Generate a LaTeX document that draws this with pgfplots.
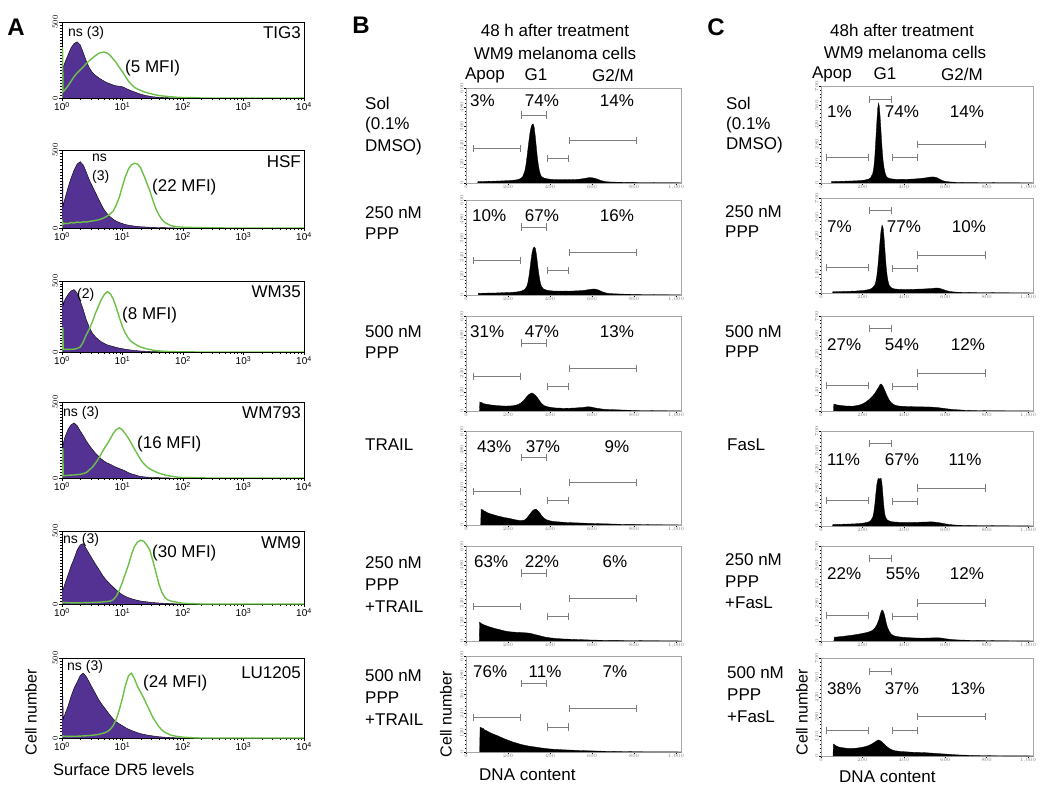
\documentclass[border=0pt]{standalone}
\usepackage{fontspec}
\setmainfont{Liberation Sans}
\usepackage{pgfplots}
\pgfplotsset{compat=1.18}
\definecolor{purp}{RGB}{84,50,148}
\definecolor{lgreen}{RGB}{108,192,72}
\definecolor{gatec}{RGB}{125,125,125}
\newcommand{\fL}{\fontsize{17}{20}\selectfont}
\newcommand{\fS}{\fontsize{14}{16}\selectfont}
\newcommand{\tx}[4][west]{\node[anchor=#1,inner sep=0pt,font=\fL] at (#2pt,-#3pt) {#4};}
\newcommand{\ts}[4][west]{\node[anchor=#1,inner sep=0pt,font=\fS] at (#2pt,-#3pt) {#4};}
\pgfplotsset{
 myfacs/.style={scale only axis, xmin=1, xmax=10000, ymin=0, ymax=500, width=242pt,
   axis line style={line width=0.6pt}, tick align=outside, xtick pos=bottom, ytick pos=left,
   xtick={1,10,100,1000,10000},
   xticklabels={10\textsuperscript{0},10\textsuperscript{1},10\textsuperscript{2},10\textsuperscript{3},10\textsuperscript{4}},
   minor xtick={2,3,4,5,6,7,8,9,20,30,40,50,60,70,80,90,200,300,400,500,600,700,800,900,2000,3000,4000,5000,6000,7000,8000,9000},
   ytick={0,500}, minor ytick={20,40,...,480},
   major tick length=3pt, minor tick length=1.8pt,
   tick style={line width=0.4pt, black},
   xticklabel style={font=\fontsize{10}{10}\selectfont, inner sep=1pt},
   yticklabel style={font=\fontsize{8}{8}\selectfont, rotate=90, anchor=south, inner sep=1pt}},
 mydna/.style={scale only axis, xmin=0, xmax=1024, ymin=0,
   axis line style={gray!70, line width=0.5pt}, tick align=outside, xtick pos=bottom, ytick pos=left,
   xtick={0,200,...,1000}, minor x tick num=3, minor y tick num=4,
   major tick length=2pt, minor tick length=1pt, tick style={black, line width=0.3pt},
   xticklabel style={font=\fontsize{3.5}{4}\selectfont, inner sep=0.5pt, text=gray},
   yticklabel style={font=\fontsize{3.5}{4}\selectfont, inner sep=0.5pt, rotate=90, anchor=south, text=gray}},
 mydnaB/.style={mydna, width=215pt, ymax=600, ytick={0,120,...,600}},
 mydnaC/.style={mydna, width=212pt, ymax=700, ytick={0,140,...,700}},
 myhist/.style={fill=black, draw=black, line width=0.3pt},
 mypur/.style={fill=purp, draw=black, line width=0.4pt},
 mygrn/.style={draw=lgreen, line width=1.4pt},
 mygate/.style={draw=gatec, line width=0.8pt},
}
\newcommand{\gatesB}{%
 \addplot[mygate, |-|] coordinates {(33,216)(262,216)};
 \addplot[mygate, |-|] coordinates {(262,430)(386,430)};
 \addplot[mygate, |-|] coordinates {(386,156)(490,156)};
 \addplot[mygate, |-|] coordinates {(490,270)(814,270)};}
\newcommand{\gatesC}{%
 \addplot[mygate, |-|] coordinates {(25,185)(232,185)};
 \addplot[mygate, |-|] coordinates {(232,605)(342,605)};
 \addplot[mygate, |-|] coordinates {(342,182)(466,182)};
 \addplot[mygate, |-|] coordinates {(466,280)(798,280)};}
\begin{document}
\begin{tikzpicture}
\path[use as bounding box] (0,0) rectangle (1050pt,-799pt);
% ================= PANEL A =================
\begin{semilogxaxis}[myfacs, at={(62pt,-98pt)}, anchor=south west, height=76pt]
\addplot[mypur] coordinates {(1,0)(1,200)(1.06,210)(1.12,235)(1.26,285)(1.41,330)(1.58,358)(1.78,370)(2,350)(2.24,300)(2.51,245)(2.82,200)(3.16,170)(3.55,150)(3.98,135)(4.47,122)(5.01,110)(5.62,100)(6.31,92)(7.08,85)(7.94,80)(8.91,77)(10,74)(11.2,65)(12.6,55)(14.1,47)(15.8,40)(17.8,32)(20,25)(22.4,20)(25.1,15)(28.2,12)(31.6,8)(39.8,5)(50.1,3)(63.1,1)(79.4,0)};
\addplot[mygrn] coordinates {(1,0)(1,330)(1.02,330)(1.04,40)(1.12,55)(1.26,80)(1.41,110)(1.58,140)(1.78,165)(2,185)(2.24,205)(2.51,225)(2.82,245)(3.16,262)(3.55,278)(3.98,292)(4.47,300)(5.01,302)(5.62,295)(6.31,278)(7.08,255)(7.94,230)(8.91,200)(10,172)(11.2,140)(12.6,110)(14.1,88)(15.8,70)(17.8,58)(20,50)(22.4,42)(25.1,35)(28.2,30)(31.6,25)(39.8,16)(50.1,12)(63.1,8)(79.4,5)(100,3)(158,2)(200,0)(10000,0)};
\end{semilogxaxis}
\begin{semilogxaxis}[myfacs, at={(62pt,-228pt)}, anchor=south west, height=78pt]
\addplot[mypur] coordinates {(1,0)(1,320)(1.03,320)(1.04,140)(1.12,190)(1.26,260)(1.41,320)(1.58,370)(1.78,410)(2,425)(2.24,405)(2.51,360)(2.82,310)(3.16,270)(3.55,230)(3.98,190)(4.47,150)(5.01,115)(5.62,90)(6.31,70)(7.08,55)(7.94,43)(8.91,35)(10,28)(11.2,22)(12.6,18)(14.1,15)(15.8,12)(17.8,10)(20,8)(25.1,6)(31.6,4)(39.8,3)(50.1,2)(63.1,1)(79.4,0)};
\addplot[mygrn] coordinates {(1,0)(1,50)(1.05,25)(1.12,30)(1.26,28)(1.41,35)(1.58,32)(1.78,38)(2,35)(2.24,40)(2.51,38)(2.82,42)(3.16,45)(3.55,48)(3.98,52)(4.47,58)(5.01,66)(5.62,78)(6.31,92)(7.08,110)(7.94,150)(8.91,200)(10,270)(11.2,330)(12.6,380)(14.1,405)(15.8,415)(17.8,410)(20,385)(22.4,340)(25.1,290)(28.2,240)(31.6,180)(35.5,125)(39.8,85)(44.7,55)(50.1,35)(63.1,15)(79.4,8)(100,5)(158,3)(251,2)(400,1)(500,0)(10000,0)};
\end{semilogxaxis}
\begin{semilogxaxis}[myfacs, at={(62pt,-352pt)}, anchor=south west, height=71pt]
\addplot[mypur] coordinates {(1,0)(1,390)(1.03,390)(1.05,330)(1.12,370)(1.26,405)(1.41,430)(1.58,440)(1.78,415)(2,360)(2.24,300)(2.51,230)(2.82,175)(3.16,135)(3.55,108)(3.98,88)(4.47,72)(5.01,60)(5.62,50)(6.31,44)(7.08,38)(7.94,32)(8.91,27)(10,23)(12.6,16)(15.8,11)(20,7)(25.1,5)(31.6,3)(39.8,2)(50.1,1)(63.1,0)};
\addplot[mygrn] coordinates {(1,0)(1,170)(1.03,170)(1.05,20)(1.26,18)(1.58,20)(1.78,25)(2,35)(2.24,70)(2.51,120)(2.82,160)(3.16,210)(3.55,270)(3.98,320)(4.47,370)(5.01,405)(5.62,425)(6.31,410)(7.08,370)(7.94,310)(8.91,240)(10,177)(11.2,130)(12.6,95)(14.1,72)(15.8,58)(17.8,45)(20,35)(25.1,22)(31.6,13)(39.8,8)(50.1,5)(63.1,3)(79.4,2)(100,1)(200,0)(10000,0)};
\end{semilogxaxis}
\begin{semilogxaxis}[myfacs, at={(62pt,-478pt)}, anchor=south west, height=76pt]
\addplot[mypur] coordinates {(1,0)(1,200)(1.03,200)(1.05,230)(1.12,270)(1.26,320)(1.41,350)(1.58,362)(1.78,345)(2,310)(2.24,280)(2.51,245)(2.82,215)(3.16,190)(3.55,165)(3.98,145)(4.47,125)(5.01,110)(5.62,98)(6.31,90)(7.08,80)(7.94,70)(8.91,62)(10,55)(11.2,45)(12.6,35)(14.1,27)(15.8,22)(17.8,15)(20,10)(25.1,6)(31.6,3)(39.8,2)(50.1,1)(63.1,0)};
\addplot[mygrn] coordinates {(1,0)(1,193)(1.03,193)(1.05,15)(1.26,18)(1.58,20)(2,24)(2.51,35)(3.16,70)(3.55,95)(3.98,125)(4.47,160)(5.01,195)(5.62,225)(6.31,260)(7.08,295)(7.94,320)(8.91,330)(10,315)(11.2,290)(12.6,260)(14.1,225)(15.8,190)(17.8,155)(20,120)(22.4,95)(25.1,75)(28.2,60)(31.6,50)(35.5,40)(39.8,32)(50.1,20)(63.1,12)(79.4,6)(100,3)(158,2)(200,1)(250,0)(10000,0)};
\end{semilogxaxis}
\begin{semilogxaxis}[myfacs, at={(62pt,-604pt)}, anchor=south west, height=73pt]
\addplot[mypur] coordinates {(1,0)(1,97)(1.03,97)(1.05,105)(1.12,140)(1.26,200)(1.41,260)(1.58,310)(1.78,370)(2,405)(2.24,414)(2.51,380)(2.82,345)(3.16,310)(3.55,275)(3.98,245)(4.47,210)(5.01,180)(5.62,155)(6.31,135)(7.08,115)(7.94,95)(8.91,78)(10,63)(11.2,52)(12.6,43)(14.1,36)(15.8,30)(17.8,25)(20,20)(25.1,15)(31.6,10)(39.8,7)(50.1,5)(63.1,3)(79.4,1)(100,0)};
\addplot[mygrn] coordinates {(1,0)(1,12)(1.12,10)(1.41,8)(2,8)(2.82,10)(3.98,12)(5.01,15)(6.31,20)(7.08,30)(7.94,55)(8.91,97)(10,150)(11.2,210)(12.6,270)(14.1,340)(15.8,395)(17.8,425)(20,436)(22.4,430)(25.1,405)(28.2,370)(31.6,300)(35.5,220)(39.8,140)(44.7,80)(50.1,45)(56.2,28)(63.1,20)(79.4,12)(100,5)(126,3)(158,2)(200,0)(10000,0)};
\end{semilogxaxis}
\begin{semilogxaxis}[myfacs, at={(62pt,-738pt)}, anchor=south west, height=80pt]
\addplot[mypur] coordinates {(1,0)(1,271)(1.03,271)(1.05,120)(1.12,150)(1.26,200)(1.41,260)(1.58,310)(1.78,350)(2,390)(2.24,406)(2.51,385)(2.82,350)(3.16,315)(3.55,280)(3.98,245)(4.47,215)(5.01,190)(5.62,165)(6.31,140)(7.08,118)(7.94,100)(8.91,88)(10,77)(11.2,65)(12.6,55)(14.1,47)(15.8,40)(17.8,33)(20,27)(25.1,19)(31.6,13)(39.8,8)(50.1,5)(63.1,3)(79.4,1)(100,0)};
\addplot[mygrn] coordinates {(1,0)(1,12)(1.26,10)(1.58,10)(2,12)(2.51,14)(3.16,17)(3.98,22)(5.01,32)(5.62,40)(6.31,55)(7.08,80)(7.94,120)(8.91,180)(10,250)(11.2,330)(12.6,390)(14.1,405)(15.8,370)(17.8,320)(20,285)(22.4,250)(25.1,210)(28.2,170)(31.6,130)(35.5,100)(39.8,72)(44.7,50)(50.1,35)(63.1,18)(79.4,10)(100,5)(126,3)(158,1)(200,0)(10000,0)};
\end{semilogxaxis}
% ================= PANEL B =================
\begin{axis}[mydnaB, at={(466pt,-183pt)}, anchor=south west, height=95pt]
\addplot[myhist] coordinates {(55,0)(58,10)(65,8)(70,10)(80,9)(90,11)(100,10)(110,12)(120,10)(130,12)(140,11)(150,13)(160,12)(170,14)(180,13)(190,15)(200,14)(210,16)(220,17)(230,18)(240,20)(250,23)(260,28)(270,40)(280,75)(285,110)(290,160)(295,215)(300,270)(305,320)(310,352)(315,370)(320,373)(325,350)(330,295)(335,225)(340,160)(345,110)(350,75)(355,52)(360,40)(370,32)(380,28)(390,26)(400,24)(410,23)(420,22)(430,21)(440,22)(450,21)(460,22)(470,21)(480,22)(490,21)(500,22)(510,21)(520,22)(530,23)(540,24)(550,26)(560,28)(570,30)(580,33)(590,34)(600,33)(610,31)(620,27)(630,22)(640,17)(650,13)(660,10)(670,8)(680,7)(700,6)(720,5)(740,5)(760,4)(780,4)(800,4)(820,3)(840,3)(860,3)(880,3)(900,2)(920,2)(940,2)(960,2)(980,2)(1000,2)(1020,1)(1024,0)};
\gatesB
\end{axis}
\begin{axis}[mydnaB, at={(466pt,-295pt)}, anchor=south west, height=95pt]
\addplot[myhist] coordinates {(58,0)(60,12)(70,10)(80,12)(90,11)(100,12)(110,13)(120,12)(130,13)(140,12)(150,14)(160,13)(170,15)(180,14)(190,15)(200,15)(210,16)(220,17)(230,18)(240,19)(250,21)(260,24)(270,28)(280,36)(290,55)(295,80)(300,120)(305,170)(310,225)(315,270)(320,295)(325,303)(330,295)(335,260)(340,205)(345,150)(350,105)(355,72)(360,52)(370,38)(380,32)(390,29)(400,27)(410,26)(420,25)(430,25)(440,24)(450,25)(460,24)(470,25)(480,25)(490,24)(500,25)(510,25)(520,26)(530,26)(540,27)(550,28)(560,29)(570,31)(580,33)(590,35)(600,37)(610,38)(620,36)(630,32)(640,26)(650,20)(660,15)(670,12)(680,10)(700,8)(720,7)(740,6)(760,5)(780,5)(800,4)(820,4)(840,3)(860,3)(880,3)(900,2)(920,2)(940,2)(960,2)(980,1)(1000,1)(1020,1)(1024,0)};
\gatesB
\end{axis}
\begin{axis}[mydnaB, at={(466pt,-411pt)}, anchor=south west, height=95pt]
\addplot[myhist] coordinates {(64,0)(66,57)(70,52)(75,55)(80,48)(90,45)(100,42)(110,40)(120,38)(130,37)(140,35)(150,34)(160,33)(170,32)(180,32)(190,31)(200,32)(210,32)(220,33)(230,35)(240,38)(250,42)(260,50)(270,60)(280,75)(290,92)(300,105)(310,112)(315,114)(320,110)(330,100)(340,85)(350,65)(360,48)(370,36)(380,30)(390,26)(400,24)(410,22)(420,20)(430,19)(440,18)(450,18)(460,17)(470,17)(480,18)(490,17)(500,18)(510,18)(520,19)(530,20)(540,21)(550,22)(560,23)(570,25)(580,27)(590,26)(600,24)(610,21)(620,18)(630,16)(640,14)(650,12)(670,10)(690,9)(710,8)(730,7)(750,6)(780,5)(800,4)(830,3)(860,3)(900,2)(940,2)(980,1)(1020,1)(1024,0)};
\gatesB
\end{axis}
\begin{axis}[mydnaB, at={(466pt,-525pt)}, anchor=south west, height=94pt]
\addplot[myhist] coordinates {(70,0)(72,100)(76,95)(80,98)(85,90)(90,88)(100,80)(110,74)(120,70)(130,66)(140,62)(150,58)(160,55)(170,52)(180,48)(190,46)(200,44)(210,41)(220,38)(230,35)(240,32)(250,30)(260,28)(270,28)(280,33)(290,45)(300,62)(310,80)(320,95)(330,101)(335,100)(340,95)(350,80)(360,60)(370,45)(380,36)(390,30)(400,27)(410,24)(420,22)(440,20)(460,18)(480,16)(500,15)(520,14)(540,13)(560,12)(580,11)(600,10)(620,9)(650,8)(680,7)(700,6)(730,5)(760,4)(800,4)(840,3)(880,2)(920,2)(960,1)(1000,1)(1024,0)};
\gatesB
\end{axis}
\begin{axis}[mydnaB, at={(466pt,-641pt)}, anchor=south west, height=95pt]
\addplot[myhist] coordinates {(63,0)(65,120)(68,115)(72,112)(76,108)(80,105)(90,100)(100,95)(110,90)(120,86)(130,82)(140,78)(150,75)(160,72)(170,68)(180,65)(190,62)(200,60)(210,58)(220,57)(230,56)(240,55)(250,55)(260,54)(270,53)(280,52)(290,51)(300,50)(310,47)(320,44)(330,40)(340,37)(350,34)(360,30)(370,27)(380,24)(390,22)(400,20)(420,17)(440,15)(460,13)(480,12)(500,11)(520,10)(540,9)(560,8)(580,7)(600,6)(640,5)(680,4)(720,4)(760,3)(800,3)(850,2)(900,2)(950,1)(1000,1)(1024,0)};
\gatesB
\end{axis}
\begin{axis}[mydnaB, at={(466pt,-752pt)}, anchor=south west, height=96pt]
\addplot[myhist] coordinates {(65,0)(67,156)(70,150)(74,152)(78,146)(82,148)(86,140)(90,138)(100,132)(110,124)(120,118)(130,112)(140,107)(150,102)(160,96)(170,90)(180,84)(190,79)(200,74)(210,69)(220,64)(230,60)(240,56)(250,52)(260,48)(270,45)(280,42)(290,39)(300,37)(320,33)(340,29)(360,25)(380,22)(400,19)(420,17)(440,16)(460,14)(480,13)(500,12)(550,9)(600,7)(650,5)(700,4)(750,3)(800,2)(900,1)(1000,1)(1024,0)};
\gatesB
\end{axis}
% ================= PANEL C =================
\begin{axis}[mydnaC, at={(821pt,-183pt)}, anchor=south west, height=97pt]
\addplot[myhist] coordinates {(50,0)(52,12)(60,10)(70,12)(80,11)(90,12)(100,13)(110,12)(120,14)(130,13)(140,15)(150,14)(160,16)(170,15)(180,17)(190,18)(200,19)(210,21)(220,24)(230,28)(240,38)(250,70)(255,110)(260,190)(265,320)(270,450)(274,540)(278,577)(282,550)(286,470)(290,370)(295,250)(300,160)(305,105)(310,70)(315,50)(320,40)(330,33)(340,30)(350,28)(360,27)(380,26)(400,26)(420,27)(440,28)(460,30)(480,33)(500,36)(510,38)(520,41)(530,43)(540,44)(550,42)(560,38)(570,30)(580,22)(590,16)(600,12)(620,8)(640,6)(660,5)(700,4)(740,4)(780,3)(820,3)(860,2)(900,2)(950,2)(1000,1)(1020,1)(1024,0)};
\gatesC
\end{axis}
\begin{axis}[mydnaC, at={(821pt,-293pt)}, anchor=south west, height=95pt]
\addplot[myhist] coordinates {(55,0)(58,10)(70,9)(80,11)(90,10)(100,11)(110,12)(120,11)(130,13)(140,12)(150,14)(160,13)(170,15)(180,16)(190,17)(200,18)(210,20)(220,22)(230,25)(240,30)(250,40)(260,60)(265,85)(270,130)(275,200)(280,290)(285,380)(290,460)(295,501)(300,480)(305,400)(310,290)(315,190)(320,120)(325,80)(330,55)(340,38)(350,32)(360,29)(380,27)(400,26)(420,26)(440,27)(460,28)(480,29)(500,30)(520,32)(540,34)(550,36)(560,37)(570,35)(580,31)(590,26)(600,20)(620,12)(640,8)(660,6)(700,5)(740,4)(780,3)(820,3)(860,2)(900,2)(950,1)(1000,1)(1024,0)};
\gatesC
\end{axis}
\begin{axis}[mydnaC, at={(821pt,-411pt)}, anchor=south west, height=95pt]
\addplot[myhist] coordinates {(60,0)(62,52)(66,48)(70,50)(75,45)(80,44)(90,42)(100,40)(110,38)(120,37)(130,36)(140,36)(150,35)(160,37)(170,39)(180,42)(190,46)(200,52)(210,60)(220,70)(230,82)(240,96)(250,112)(260,130)(270,155)(280,180)(285,195)(290,199)(295,192)(300,180)(310,145)(320,110)(330,80)(340,60)(350,48)(360,42)(370,38)(380,36)(400,34)(420,33)(440,32)(460,31)(480,31)(500,30)(520,30)(540,28)(560,26)(580,22)(600,18)(620,14)(640,11)(660,9)(680,7)(700,5)(740,4)(780,3)(820,2)(880,2)(940,1)(1000,1)(1024,0)};
\gatesC
\end{axis}
\begin{axis}[mydnaC, at={(821pt,-526pt)}, anchor=south west, height=95pt]
\addplot[myhist] coordinates {(55,0)(58,12)(70,11)(80,12)(90,13)(100,12)(110,14)(120,13)(130,15)(140,14)(150,16)(160,15)(170,17)(180,18)(190,19)(200,21)(210,23)(220,26)(230,30)(240,40)(250,65)(255,100)(260,160)(265,240)(270,310)(275,345)(280,353)(283,340)(286,348)(290,352)(294,320)(298,250)(302,170)(306,110)(310,75)(315,55)(320,45)(330,37)(340,32)(350,30)(370,28)(400,26)(420,26)(440,26)(460,27)(480,28)(500,29)(520,30)(530,31)(540,30)(560,27)(580,22)(600,16)(620,11)(640,8)(660,6)(700,5)(740,4)(780,3)(820,3)(860,2)(900,2)(950,1)(1000,1)(1024,0)};
\gatesC
\end{axis}
\begin{axis}[mydnaC, at={(821pt,-641pt)}, anchor=south west, height=95pt]
\addplot[myhist] coordinates {(62,0)(65,30)(70,28)(80,30)(90,32)(100,33)(110,35)(120,37)(130,39)(140,41)(150,43)(160,45)(170,48)(180,50)(190,53)(200,56)(210,59)(220,62)(230,66)(240,72)(250,80)(260,95)(270,120)(280,160)(285,190)(290,215)(295,229)(300,222)(305,200)(310,170)(315,135)(320,105)(330,70)(340,50)(350,40)(360,35)(380,30)(400,27)(420,25)(440,23)(460,22)(480,21)(500,21)(520,22)(540,23)(560,24)(580,22)(600,17)(620,13)(640,10)(660,8)(700,6)(740,5)(780,4)(820,3)(860,2)(900,2)(950,1)(1000,1)(1024,0)};
\gatesC
\end{axis}
\begin{axis}[mydnaC, at={(821pt,-756pt)}, anchor=south west, height=98pt]
\addplot[myhist] coordinates {(58,0)(60,86)(64,82)(68,78)(72,74)(76,70)(80,67)(90,63)(100,60)(110,58)(120,56)(130,55)(140,54)(150,54)(160,55)(170,56)(180,58)(190,60)(200,63)(210,66)(220,70)(230,75)(240,82)(250,90)(260,100)(270,110)(276,115)(282,112)(288,108)(295,100)(300,92)(310,78)(320,65)(330,54)(340,46)(350,40)(360,37)(370,35)(380,33)(400,31)(420,29)(440,27)(460,26)(480,25)(500,24)(520,22)(540,20)(560,18)(580,16)(600,14)(620,12)(640,10)(660,8)(680,7)(700,6)(720,5)(740,4)(760,4)(780,3)(800,3)(840,2)(880,1)(920,1)(1000,1)(1024,0)};
\gatesC
\end{axis}
% ================= TEXT =================
\node[font=\fontsize{24}{24}\selectfont\bfseries, inner sep=0pt] at (16pt,-27pt) {A};
\node[font=\fontsize{24}{24}\selectfont\bfseries, inner sep=0pt] at (361pt,-25pt) {B};
\node[font=\fontsize{24}{24}\selectfont\bfseries, inner sep=0pt] at (716pt,-27pt) {C};
% Panel A labels
\ts{68}{33}{ns (3)} \tx{125}{68}{(5 MFI)} \tx[east]{301}{33}{TIG3}
\ts{92}{158}{ns} \ts{92}{177}{(3)} \tx{152}{187}{(22 MFI)} \tx[east]{301}{162}{HSF}
\ts{77}{295}{(2)} \tx{122}{315}{(8 MFI)} \tx[east]{301}{292}{WM35}
\ts{63}{413}{ns (3)} \tx{137}{444}{(16 MFI)} \tx[east]{301}{413}{WM793}
\ts{63}{540}{ns (3)} \tx{152}{553}{(30 MFI)} \tx[east]{301}{543}{WM9}
\ts{67}{667}{ns (3)} \tx{143}{683}{(24 MFI)} \tx[east]{301}{673}{LU1205}
\node[font=\fontsize{16}{16}\selectfont, rotate=90, inner sep=0pt] at (31pt,-712pt) {Cell number};
\node[font=\fontsize{16.5}{16}\selectfont, anchor=west, inner sep=0pt] at (53pt,-770pt) {Surface DR5 levels};
% Panel B headings
\tx[center]{555}{30}{48 h after treatment}
\tx[center]{555}{53}{WM9 melanoma cells}
\tx[center]{485}{75}{Apop} \tx[center]{536}{75}{G1} \tx[center]{613}{75}{G2/M}
% Panel B rows
\tx{365}{103}{Sol} \tx{365}{125}{(0.1\%} \tx{365}{147}{DMSO)}
\tx{365}{213}{250 nM} \tx{365}{234}{PPP}
\tx{365}{332}{500 nM} \tx{365}{353}{PPP}
\tx{365}{445}{TRAIL}
\tx{365}{563}{250 nM} \tx{365}{585}{PPP} \tx{365}{607}{+TRAIL}
\tx{365}{676}{500 nM} \tx{365}{698}{PPP} \tx{365}{720}{+TRAIL}
% Panel B percentages
\tx{470}{101}{3\%} \tx[center]{542}{101}{74\%} \tx[center]{617}{101}{14\%}
\tx{472}{216}{10\%} \tx[center]{542}{216}{67\%} \tx[center]{617}{216}{16\%}
\tx{470}{332}{31\%} \tx[center]{542}{332}{47\%} \tx[center]{617}{332}{13\%}
\tx{477}{447}{43\%} \tx[center]{543}{447}{37\%} \tx[center]{617}{447}{9\%}
\tx{474}{562}{63\%} \tx[center]{542}{562}{22\%} \tx[center]{615}{562}{6\%}
\tx{473}{672}{76\%} \tx[center]{545}{672}{11\%} \tx[center]{615}{672}{7\%}
\node[font=\fontsize{16}{16}\selectfont, rotate=90, inner sep=0pt] at (446pt,-714pt) {Cell number};
\tx{479}{775}{DNA content}
% Panel C headings
\tx[center]{902}{30}{48h after treatment}
\tx[center]{905}{52}{WM9 melanoma cells}
\tx[center]{832}{74}{Apop} \tx[center]{885}{74}{G1} \tx[center]{962}{74}{G2/M}
% Panel C rows
\tx{726}{103}{Sol} \tx{726}{125}{(0.1\%} \tx{726}{145}{DMSO)}
\tx{725}{212}{250 nM} \tx{725}{232}{PPP}
\tx{725}{332}{500 nM} \tx{725}{352}{PPP}
\tx{727}{445}{FasL}
\tx{725}{560}{250 nM} \tx{725}{582}{PPP} \tx{725}{603}{+FasL}
\tx{727}{673}{500 nM} \tx{727}{695}{PPP} \tx{727}{717}{+FasL}
% Panel C percentages
\tx{827}{112}{1\%} \tx[center]{902}{112}{74\%} \tx[center]{967}{112}{14\%}
\tx{827}{227}{7\%} \tx[center]{904}{227}{77\%} \tx[center]{969}{227}{10\%}
\tx{827}{345}{27\%} \tx[center]{902}{345}{54\%} \tx[center]{968}{345}{12\%}
\tx{827}{460}{11\%} \tx[center]{902}{460}{67\%} \tx[center]{965}{460}{11\%}
\tx{827}{574}{22\%} \tx[center]{903}{574}{55\%} \tx[center]{967}{574}{12\%}
\tx{827}{689}{38\%} \tx[center]{902}{689}{37\%} \tx[center]{968}{689}{13\%}
\node[font=\fontsize{16}{16}\selectfont, rotate=90, inner sep=0pt] at (802pt,-712pt) {Cell number};
\tx{839}{777}{DNA content}
\end{tikzpicture}
\end{document}
